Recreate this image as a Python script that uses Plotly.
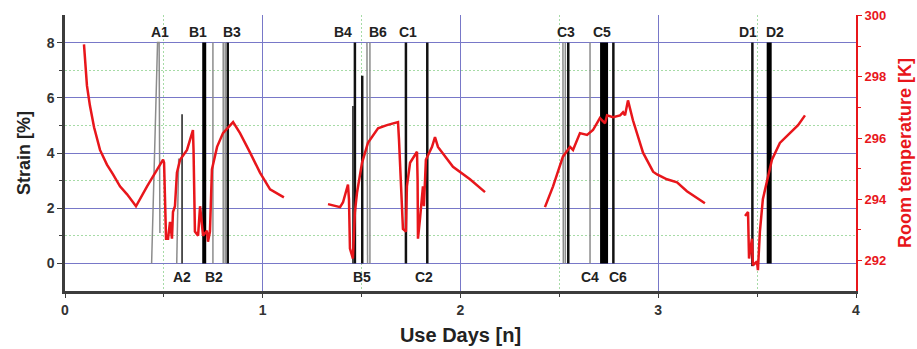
import plotly.graph_objects as go

# ---- Temperature (right axis), segments separated by None ----
temp_x = [0.096, 0.101, 0.111, 0.126, 0.147, 0.177, 0.212, 0.243, 0.278, 0.314, 0.359, 0.415, 0.48, 0.496,
          0.501, 0.511, 0.511, 0.521, 0.531, 0.541, 0.546, 0.556, 0.566, 0.582, 0.617, 0.647, 0.65, 0.657,
          0.673, 0.683, 0.693, 0.698, 0.718, 0.723, 0.733, 0.743, 0.769, 0.799, 0.85, 0.885, 0.936, 0.986,
          1.037, 1.107, None,
          1.33, 1.391, 1.406, 1.431, 1.436, 1.441, 1.456, 1.466, 1.477, 1.502, 1.532, 1.583, 1.628, 1.684,
          1.689, 1.704, 1.709, 1.724, 1.729, 1.745, 1.78, 1.783, 1.785, 1.795, 1.81, 1.815, 1.825, 1.856,
          1.871, 1.886, 1.962, 2.048, 2.124, None,
          2.427, 2.468, 2.518, 2.554, 2.569, 2.604, 2.64, 2.67, 2.705, 2.731, 2.741, 2.771, 2.807, 2.822,
          2.832, 2.847, 2.872, 2.923, 2.974, 2.994, 3.044, 3.095, 3.145, 3.236, None,
          3.439, 3.454, 3.459, 3.474, 3.479, 3.499, 3.504, 3.514, 3.529, 3.555, 3.575, 3.615, 3.666, 3.707,
          3.742]
temp_k = [299.06, 298.52, 297.71, 297.06, 296.35, 295.61, 295.13, 294.81, 294.42, 294.16, 293.77, 294.42,
          295.13, 295.29, 295.19, 293.35, 292.71, 292.71, 293.26, 292.71, 293.58, 293.77, 294.87, 295.29,
          295.61, 296.26, 295.61, 292.94, 292.81, 293.77, 292.94, 292.81, 292.97, 292.61, 292.94, 294.97,
          295.71, 296.16, 296.52, 296.16, 295.52, 294.87, 294.32, 294.06, None,
          293.84, 293.74, 293.9, 294.48, 294.0, 292.39, 292.06, 293.58, 294.23, 295.19, 295.84, 296.32,
          296.42, 296.52, 295.94, 293.68, 293.03, 292.94, 294.42, 295.19, 295.55, 294.65, 292.71, 293.35,
          294.42, 293.77, 295.29, 295.71, 296.03, 295.71, 295.06, 294.65, 294.23, None,
          293.74, 294.42, 295.39, 295.71, 295.61, 296.16, 296.1, 296.26, 296.65, 296.48, 296.74, 296.68,
          296.74, 296.84, 296.74, 297.23, 296.58, 295.52, 294.9, 294.81, 294.65, 294.55, 294.26, 293.87, None,
          293.45, 293.58, 292.06, 292.71, 291.84, 291.97, 291.68, 292.94, 294.0, 294.74, 295.29, 295.84,
          296.16, 296.42, 296.74]

# ---- Strain spikes (left axis) ----
gray_x = [0.438, 0.468, 0.476, 0.48, None, 0.565, 0.575, None, 0.748, 0.748, None,
          0.80, 0.80, None, 0.81, 0.81, None, 1.527, 1.53, None, 1.542, 1.542, None,
          2.518, 2.52, None, 2.53, 2.53, None, 2.655, 2.655]
gray_y = [0, 8, 8, 1.1, None, 0, 3.8, None, 8, 0, None,
          8, 0, None, 0, 8, None, 8, 0, None, 0, 8, None,
          8, 0, None, 0, 8, None, 8, 0]

dark_x = [0.592, 0.592, None, 1.456, 1.456]
dark_y = [5.4, 0, None, 5.7, 0]

black_x = [0.823, 0.823, None, 1.466, 1.466, None, 1.503, 1.503, None, 1.724, 1.724, None,
           1.832, 1.832, None, 2.545, 2.545, None, 2.773, 2.773, None, 3.476, 3.476]
black_y = [8, 0, None, 8, 0, None, 6.8, 0, None, 8, 0, None,
           8, 0, None, 8, 0, None, 8, 0, None, 8, -0.1]

b1_x, b1_y = [0.704, 0.704], [8, 0]
c5_x, c5_y = [2.726, 2.726], [8, 0]
d2_x, d2_y = [3.561, 3.561], [8, 0]

# ---- Event labels ----
top_labels = ["A1", "B1", "B3", "B4", "B6", "C1", "C3", "C5", "D1", "D2"]
top_label_x = [0.48, 0.673, 0.845, 1.404, 1.583, 1.735, 2.533, 2.716, 3.454, 3.59]
bottom_labels = ["A2", "B2", "B5", "C2", "C4", "C6"]
bottom_label_x = [0.592, 0.753, 1.502, 1.815, 2.655, 2.796]
top_label_y = 8.4
bottom_label_y = -0.5

x_ticks = [0, 1, 2, 3, 4]
strain_ticks = [0, 2, 4, 6, 8]
temp_ticks = [292, 294, 296, 298, 300]

BLUE = "#7878c8"
GREEN = "#a6dba6"
RED = "#e8161b"
AX = "#3c3c3c"

fig = go.Figure()
fig.add_trace(go.Scatter(x=gray_x, y=gray_y, mode="lines", line=dict(color="#8c8c8c", width=1.5),
                         showlegend=False, hoverinfo="skip"))
fig.add_trace(go.Scatter(x=dark_x, y=dark_y, mode="lines", line=dict(color="#444444", width=1.8),
                         showlegend=False, hoverinfo="skip"))
fig.add_trace(go.Scatter(x=black_x, y=black_y, mode="lines", line=dict(color="#111111", width=2.5),
                         showlegend=False, hoverinfo="skip"))
fig.add_trace(go.Scatter(x=b1_x, y=b1_y, mode="lines", line=dict(color="#000000", width=4),
                         showlegend=False, hoverinfo="skip"))
fig.add_trace(go.Scatter(x=c5_x, y=c5_y, mode="lines", line=dict(color="#000000", width=8),
                         showlegend=False, hoverinfo="skip"))
fig.add_trace(go.Scatter(x=d2_x, y=d2_y, mode="lines", line=dict(color="#000000", width=5),
                         showlegend=False, hoverinfo="skip"))
fig.add_trace(go.Scatter(x=temp_x, y=temp_k, mode="lines", yaxis="y2", connectgaps=False,
                         line=dict(color=RED, width=2.5), showlegend=False, hoverinfo="skip"))

font_b = "Liberation Sans, Arial"
annots = []
for t, x in zip(top_labels, top_label_x):
    annots.append(dict(x=x, y=top_label_y, xref="x", yref="y", text="<b>%s</b>" % t, showarrow=False,
                       font=dict(family=font_b, size=14, color="#222222")))
for t, x in zip(bottom_labels, bottom_label_x):
    annots.append(dict(x=x, y=bottom_label_y, xref="x", yref="y", text="<b>%s</b>" % t, showarrow=False,
                       font=dict(family=font_b, size=14, color="#222222")))

fig.update_layout(
    width=917, height=349,
    margin=dict(l=65, r=61, t=15, b=58, autoexpand=False),
    paper_bgcolor="white", plot_bgcolor="white",
    font=dict(family=font_b),
    annotations=annots,
    xaxis=dict(range=[0, 4], tickvals=x_ticks, ticktext=["<b>%d</b>" % v for v in x_ticks],
               showline=True, linecolor=AX, linewidth=2.5, ticks="outside", ticklen=4, tickcolor=AX,
               tickfont=dict(size=14, color="#333333"), showgrid=True, gridcolor=BLUE, gridwidth=1,
               zeroline=False,
               minor=dict(tickvals=[0.5, 1.5, 2.5, 3.5], showgrid=True, gridcolor=GREEN, griddash="2px,2px",
                          gridwidth=1, ticks="outside", ticklen=3, tickcolor=AX),
               title=dict(text="<b>Use Days [n]</b>", font=dict(size=20, color="#222222"), standoff=12)),
    yaxis=dict(range=[-1, 9], tickvals=strain_ticks, ticktext=["<b>%d</b>" % v for v in strain_ticks],
               showline=True, linecolor=AX, linewidth=2.5, ticks="outside", ticklen=5, tickcolor=AX,
               tickfont=dict(size=14, color="#333333"), showgrid=True, gridcolor=BLUE, gridwidth=1,
               zeroline=False,
               minor=dict(tickvals=[1, 3, 5, 7], showgrid=True, gridcolor=GREEN, griddash="2px,2px",
                          gridwidth=1, ticks="outside", ticklen=3, tickcolor=AX),
               title=dict(text="<b>Strain [%]</b>", font=dict(size=18, color="#222222"), standoff=12)),
    yaxis2=dict(range=[291, 300.02], overlaying="y", side="right", tickvals=temp_ticks,
                ticktext=["<b>%d</b>" % v for v in temp_ticks],
                showline=True, linecolor=RED, linewidth=2, ticks="outside", ticklen=4, tickcolor=RED,
                tickfont=dict(size=13, color=RED), showgrid=False, zeroline=False,
                minor=dict(tickvals=[293, 295, 297, 299], ticks="outside", ticklen=3, tickcolor=RED),
                title=dict(text="<b>Room temperature [K]</b>", font=dict(size=18, color=RED), standoff=12)),
)

fig.write_html("out.html")
